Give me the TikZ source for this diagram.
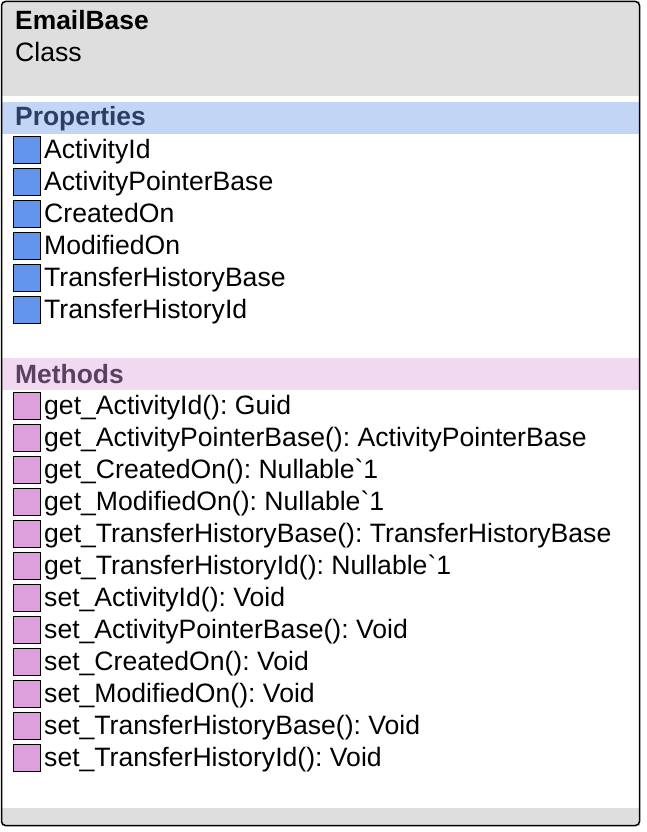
\documentclass[tikz,border=0pt]{standalone}
\usepackage{fontspec}
\setmainfont{Liberation Sans}[Ligatures=TeXOff]
\frenchspacing
\definecolor{headgray}{HTML}{DEDEDE}
\definecolor{propband}{HTML}{C3D5F5}
\definecolor{propbox}{HTML}{6495ED}
\definecolor{proptext}{HTML}{2C3E66}
\definecolor{methband}{HTML}{F1D9F1}
\definecolor{methbox}{HTML}{DDA0DD}
\definecolor{methtext}{HTML}{5B4060}
\tikzset{
  rowtext/.style={anchor=base west, inner sep=0pt, font=\fontsize{26.6}{28}\selectfont},
  headtext/.style={rowtext, font=\fontsize{26.4}{28}\selectfont\bfseries},
  propicon/.style={draw=black, line width=1pt, fill=propbox},
  methicon/.style={draw=black, line width=1pt, fill=methbox}
}
\begin{document}
\begin{tikzpicture}[x=1pt,y=-1pt]
          \useasboundingbox (0,0) rectangle (646,832);
          % header and bands
          \fill[headgray] (1.5,1.5) rectangle (639.5,96);
          \fill[propband] (1.5,102) rectangle (639.5,134);
          \fill[methband] (1.5,358) rectangle (639.5,390);
          \fill[headgray] (1.5,808) rectangle (639.5,825.5);
          \node[headtext] (title) at (15,30) {EmailBase};
          \node[rowtext] (kind) at (15,62) {Class};
          \node[headtext, text=proptext] (props) at (15,126) {Properties};
          \node[headtext, text=methtext] (meths) at (15,383) {Methods};
        %
        % Properties:
        \foreach \name [count=\i] in {ActivityId, ActivityPointerBase, CreatedOn,
            ModifiedOn, TransferHistoryBase, TransferHistoryId} {
          \draw[propicon] (13.5,150+32*\i-32-13.5) rectangle (40.5,150+32*\i-32+13.5);
          \node[rowtext] (prop\i) at (44,158+32*\i-32) {\name};
        }
        % Methods:
        \foreach \name [count=\i] in {get\_ActivityId(): Guid,
            get\_ActivityPointerBase(): ActivityPointerBase,
            get\_CreatedOn(): Nullable`1,
            get\_ModifiedOn(): Nullable`1,
            get\_TransferHistoryBase(): TransferHistoryBase,
            get\_TransferHistoryId(): Nullable`1,
            set\_ActivityId(): Void,
            set\_ActivityPointerBase(): Void,
            set\_CreatedOn(): Void,
            set\_ModifiedOn(): Void,
            set\_TransferHistoryBase(): Void,
            set\_TransferHistoryId(): Void} {
          \draw[methicon] (13.5,406+32*\i-32-13.5) rectangle (40.5,406+32*\i-32+13.5);
          \node[rowtext] (meth\i) at (44,414+32*\i-32) {\name};
        }
        % frame
        \draw[black, line width=1.5pt, rounded corners=4pt] (1.5,1.5) rectangle (639.5,825.5);
            \end{tikzpicture}
\end{document}
